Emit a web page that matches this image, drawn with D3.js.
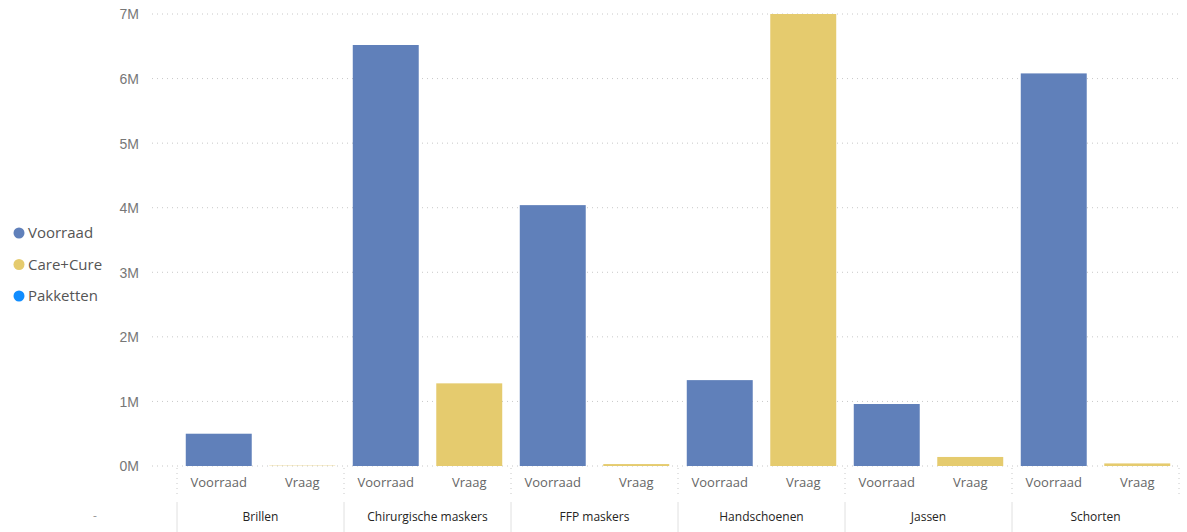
<!DOCTYPE html>
<html><head><meta charset="utf-8">
<script src="https://cdn.jsdelivr.net/npm/d3@7"></script>
<style>
body{margin:0;background:#fff;}
svg{display:block;font-family:"Open Sans","Noto Sans",sans-serif;}
</style></head>
<body><svg id="c" width="1187" height="532"></svg>
<script>
const categories = ["Brillen","Chirurgische maskers","FFP maskers","Handschoenen","Jassen","Schorten"];
const subCategories = ["Voorraad","Vraag"];
const voorraad = [0.50e6, 6.52e6, 4.04e6, 1.33e6, 0.96e6, 6.08e6];
const vraag = [0.005e6, 1.28e6, 0.03e6, 7.0e6, 0.14e6, 0.04e6];
const yTicks = [0,1e6,2e6,3e6,4e6,5e6,6e6,7e6];
const legendNames = ["Voorraad","Care+Cure","Pakketten"];
const legendColors = ["#6080BA","#E5CB6E","#118DFF"];

const svg = d3.select("#c");
const y = d3.scaleLinear().domain([0,7e6]).range([466,14]);
const x0 = d3.scaleBand().domain(categories).range([177,1179]);
const x1 = d3.scaleBand().domain(subCategories).range([0,x0.bandwidth()]).paddingInner(0.21).paddingOuter(0.105);

// gridlines
const yAxis = d3.axisLeft(y).tickValues(yTicks).tickFormat(d=>(d/1e6)+"M").tickSize(0).tickPadding(0);
const ga = svg.append("g").attr("transform","translate(139,0)").call(yAxis);
ga.select(".domain").remove();
ga.selectAll("text").attr("fill","#777").style("font-size","14px").attr("dy","0.35em");
svg.append("g").selectAll("line").data(yTicks).join("line")
  .attr("x1",152).attr("x2",1180).attr("y1",d=>y(d)).attr("y2",d=>y(d))
  .attr("stroke","#c8c8c8").attr("stroke-width",1).attr("stroke-dasharray","1,4");

// bars
const data = categories.map((c,i)=>({cat:c, vals:[{k:"Voorraad",v:voorraad[i],col:legendColors[0]},{k:"Vraag",v:vraag[i],col:legendColors[1]}]}));
const g = svg.append("g").selectAll("g").data(data).join("g").attr("transform",d=>`translate(${x0(d.cat)},0)`);
g.selectAll("rect").data(d=>d.vals).join("rect")
  .attr("x",d=>x1(d.k)).attr("width",x1.bandwidth())
  .attr("y",d=>y(d.v)).attr("height",d=>y(0)-y(d.v)).attr("fill",d=>d.col);

// sub labels
g.selectAll("text.sub").data(d=>d.vals).join("text").attr("class","sub")
  .attr("x",d=>x1(d.k)+x1.bandwidth()/2).attr("y",487).attr("text-anchor","middle")
  .attr("fill","#666").style("font-size","13px").text(d=>d.k);

// separators
const bounds = categories.map(c=>x0(c)).concat([x0.range()[1]]);
svg.append("g").selectAll("line").data(bounds).join("line")
  .attr("x1",d=>d).attr("x2",d=>d).attr("y1",468).attr("y2",497)
  .attr("stroke","#c8c8c8").attr("stroke-dasharray","1,4");
svg.append("g").selectAll("line").data(bounds.slice(0,-1)).join("line")
  .attr("x1",d=>d).attr("x2",d=>d).attr("y1",502).attr("y2",532)
  .attr("stroke","#e0e0e0");
// group labels
svg.append("g").selectAll("text").data(categories).join("text")
  .attr("x",c=>x0(c)+x0.bandwidth()/2).attr("y",521).attr("text-anchor","middle")
  .attr("fill","#252423").style("font-size","12px").text(c=>c);
svg.append("text").attr("x",95).attr("y",520).attr("text-anchor","middle").attr("fill","#999").style("font-size","12px").text("-");

// legend
const lg = svg.append("g").selectAll("g").data(legendNames).join("g")
  .attr("transform",(d,i)=>`translate(0,${233+i*31.5})`);
lg.append("circle").attr("cx",19).attr("cy",0).attr("r",5.5).attr("fill",(d,i)=>legendColors[i]);
lg.append("text").attr("x",28).attr("y",0).attr("dy","0.35em").attr("fill","#555").style("font-size","15px").text(d=>d);
</script></body></html>
